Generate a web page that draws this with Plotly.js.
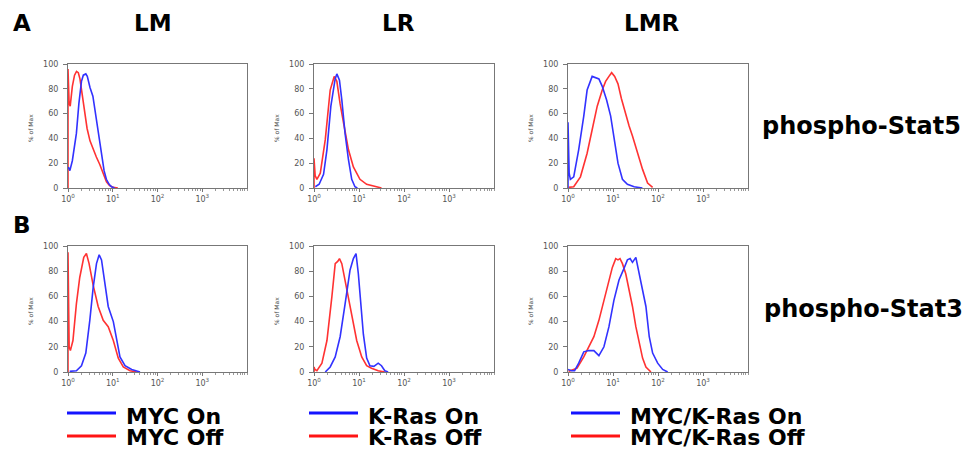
<!DOCTYPE html>
<html><head><meta charset="utf-8">
<script src="https://cdn.plot.ly/plotly-3.0.1.min.js"></script>
<style>html,body{margin:0;padding:0;background:#fff}#chart{width:967px;height:450px}</style>
</head><body><div id="chart"></div>
<script>
// ---- data (fluorescence intensity, % of Max) ----
const columnTitles = ['LM', 'LR', 'LMR'];
const rowLabels = ['A', 'B'];
const rowMarkers = ['phospho-Stat5', 'phospho-Stat3'];
const tickVals = [1, 10, 100, 1000];
const tickText = ['10<sup>0</sup>', '10<sup>1</sup>', '10<sup>2</sup>', '10<sup>3</sup>'];
const yTickVals = [0, 20, 40, 60, 80, 100];
const legendOn = ['MYC On', 'K-Ras On', 'MYC/K-Ras On'];
const legendOff = ['MYC Off', 'K-Ras Off', 'MYC/K-Ras Off'];

// Row A (phospho-Stat5)
const lmA_on_x  = [1.02, 1.1, 1.25, 1.4, 1.54, 1.75, 2.0, 2.2, 2.5, 2.7, 3.1, 3.6, 4.3, 5.0, 5.6, 6.4, 7.2, 8.3, 9.4, 11];
const lmA_on_y  = [17, 14, 22, 33, 44, 68, 86, 91, 92, 90, 81, 74, 55, 40, 25, 14, 7, 3, 1, 0];
const lmA_off_x = [1, 1, 1.06, 1.12, 1.25, 1.4, 1.55, 1.7, 1.85, 2.17, 2.67, 3.1, 3.63, 4.3, 5.13, 6.2, 7.24, 8.5, 10.2, 13];
const lmA_off_y = [0, 96, 68, 66, 82, 91, 94, 93, 88, 71, 48, 38, 31, 25, 19, 12, 5, 2, 0.5, 0];

const lrA_on_x  = [1.07, 1.3, 1.63, 1.94, 2.37, 2.95, 3.22, 3.68, 4.15, 4.9, 5.82, 6.89, 8.13, 9.2];
const lrA_on_y  = [1, 3, 11, 31, 66, 88, 92, 87, 71, 44, 23, 7, 1, 0];
const lrA_off_x = [1, 1, 1.06, 1.16, 1.38, 1.78, 2.29, 2.81, 3.22, 3.8, 4.67, 5.82, 7.5, 10.5, 14.8, 24.6, 31.6];
const lrA_off_y = [0, 24, 10, 7, 12, 39, 79, 90, 86, 68, 50, 31, 17, 7, 3, 1, 0];

const lmrA_on_x  = [1, 1, 1.06, 1.13, 1.34, 1.73, 2.24, 2.66, 3.44, 4.09, 4.86, 5.77, 7.21, 8.87, 10.5, 12.9, 16.2, 20.9, 29.5, 45];
const lmrA_on_y  = [0, 53, 12, 7, 9, 31, 58, 79, 90, 89, 88, 82, 71, 58, 39, 20, 7, 3, 1, 0];
const lmrA_off_x = [1.03, 1.34, 1.89, 2.66, 3.44, 4.46, 5.77, 6.85, 8.13, 9.33, 10.9, 12.9, 15.4, 19.2, 22.8, 27.1, 35.1, 45.4, 58.7, 75.9];
const lmrA_off_y = [0.5, 1, 9, 28, 47, 66, 79, 86, 90, 93, 90, 84, 72, 59, 50, 42, 28, 15, 4, 0.5];

// Row B (phospho-Stat3)
const lmB_on_x  = [1.09, 1.54, 2.0, 2.5, 3.07, 3.65, 4.33, 4.97, 5.61, 6.67, 7.92, 10.3, 12.2, 14.5, 18.8, 26.5, 40.7];
const lmB_on_y  = [0.5, 1, 5, 15, 41, 67, 86, 93, 89, 70, 52, 40, 25, 12, 5, 2, 0];
const lmB_off_x = [1, 1, 1.06, 1.13, 1.29, 1.54, 1.83, 2.25, 2.58, 2.96, 3.65, 4.72, 6.12, 7.92, 10.3, 13.3, 17.2, 24.3, 34.3];
const lmB_off_y = [0, 95, 20, 17, 25, 54, 75, 91, 94, 86, 69, 52, 41, 36, 25, 11, 4, 1, 0];

const lrB_on_x  = [1.78, 2.29, 2.96, 3.81, 4.91, 6.33, 7.5, 8.59, 9.67, 10.9, 12.5, 14.8, 17.5, 21.4, 26.7, 31.6, 37.5, 44.4];
const lrB_on_y  = [0, 4, 12, 28, 54, 81, 90, 94, 78, 54, 30, 11, 5, 4.5, 7, 5, 1, 0];
const lrB_off_x = [1, 1, 1.05, 1.16, 1.5, 1.94, 2.5, 2.96, 3.4, 3.68, 4.15, 4.91, 5.82, 7.25, 8.89, 11.5, 14.8, 19, 26.7, 37.5];
const lrB_off_y = [0, 4, 2, 1, 7, 25, 60, 86, 88, 90, 86, 73, 60, 41, 25, 12, 5, 3, 1, 0];

const lmrB_on_x  = [1, 1.2, 1.4, 1.73, 2.24, 2.9, 3.76, 4.86, 6.29, 8.13, 10.5, 13.6, 17, 20.9, 24, 27.1, 32.2, 36.3, 45.4, 53.9, 63.9, 76, 98.4, 127, 164];
const lmrB_on_y  = [2, 1, 1, 7, 16, 17, 17, 13, 20, 36, 57, 73, 81, 89, 90, 87, 91, 82, 66, 52, 28, 15, 7, 2, 0];
const lmrB_off_x = [1.03, 1.59, 2.24, 2.9, 3.76, 4.86, 6.29, 8.13, 9.67, 11.5, 12.9, 14.3, 16.2, 19.2, 22.8, 27.1, 32.2, 38.2, 45.4, 53.9, 69.7];
const lmrB_off_y = [0.5, 3, 12, 20, 28, 41, 57, 73, 83, 90, 89, 90, 86, 78, 66, 52, 36, 22, 11, 4, 0];

// ---- layout helpers ----
const W = 967, H = 450;
const BLUE = 'rgb(50,50,255)', RED = 'rgb(255,50,50)';
const colPx = [[68, 247], [314, 494], [568, 748]];
const rowPx = [[64, 188], [246, 372]];
const px = v => v / W, py = v => 1 - v / H;

const panels = [
  [lmA_on_x, lmA_on_y, lmA_off_x, lmA_off_y],
  [lrA_on_x, lrA_on_y, lrA_off_x, lrA_off_y],
  [lmrA_on_x, lmrA_on_y, lmrA_off_x, lmrA_off_y],
  [lmB_on_x, lmB_on_y, lmB_off_x, lmB_off_y],
  [lrB_on_x, lrB_on_y, lrB_off_x, lrB_off_y],
  [lmrB_on_x, lmrB_on_y, lmrB_off_x, lmrB_off_y]
];

const traces = [];
const layout = {
  width: W, height: H, margin: {l: 0, r: 0, t: 0, b: 0},
  paper_bgcolor: '#fff', plot_bgcolor: '#fff', showlegend: false,
  annotations: [], shapes: []
};
const tickFont = {family: 'DejaVu Sans', size: 8, color: '#555'};

panels.forEach((p, i) => {
  const r = Math.floor(i / 3), c = i % 3, n = i + 1;
  const xs = n === 1 ? '' : String(n);
  traces.push({x: p[2], y: p[3], type: 'scatter', mode: 'lines', line: {color: RED, width: 1.6},
               xaxis: 'x' + xs, yaxis: 'y' + xs, hoverinfo: 'skip'});
  traces.push({x: p[0], y: p[1], type: 'scatter', mode: 'lines', line: {color: BLUE, width: 1.6},
               xaxis: 'x' + xs, yaxis: 'y' + xs, hoverinfo: 'skip'});
  layout['xaxis' + xs] = {
    type: 'log', range: [0, 4], domain: [px(colPx[c][0]), px(colPx[c][1])], anchor: 'y' + xs,
    tickmode: 'array', tickvals: tickVals, ticktext: tickText, ticks: 'outside', ticklen: 3,
    tickcolor: '#777', showline: true, mirror: true, linecolor: '#777', linewidth: 1,
    showgrid: false, zeroline: false, tickfont: tickFont,
    minor: {ticks: 'outside', ticklen: 2, tickcolor: '#999', dtick: 'D1', showgrid: false}
  };
  layout['yaxis' + xs] = {
    range: [0, 100], domain: [py(rowPx[r][1]), py(rowPx[r][0])], anchor: 'x' + xs,
    tickmode: 'array', tickvals: yTickVals, ticks: 'outside', ticklen: 4, ticklabelstandoff: 3,
    tickcolor: '#777', showline: true, mirror: true, linecolor: '#777', linewidth: 1,
    showgrid: false, zeroline: false, tickfont: tickFont
  };
  // "% of Max" axis label
  layout.annotations.push({
    text: '% of Max', textangle: -90, xref: 'paper', yref: 'paper',
    x: px(colPx[c][0] - 38), y: py((rowPx[r][0] + rowPx[r][1]) / 2 + 2),
    xanchor: 'center', yanchor: 'middle', showarrow: false,
    font: {family: 'DejaVu Sans', size: 6, color: '#444'}
  });
});

const bold = {family: 'DejaVu Sans', size: 23, color: '#000'};
const boldLeg = {family: 'DejaVu Sans', size: 22, color: '#000'};
const boldMarker = {family: 'DejaVu Sans', size: 24, color: '#000'};
// column titles
const titleX = [153, 398, 652];
columnTitles.forEach((t, c) => layout.annotations.push({
  text: '<b>' + t + '</b>', xref: 'paper', yref: 'paper', x: px(titleX[c]), y: py(23),
  xanchor: 'center', yanchor: 'middle', showarrow: false, font: bold
}));
// row letters
const letterY = [23, 225];
rowLabels.forEach((t, r) => layout.annotations.push({
  text: '<b>' + t + '</b>', xref: 'paper', yref: 'paper', x: px(22), y: py(letterY[r]),
  xanchor: 'center', yanchor: 'middle', showarrow: false, font: bold
}));
// row marker labels
const markerY = [126, 309], markerRight = [963, 965];
rowMarkers.forEach((t, r) => layout.annotations.push({
  text: '<b>' + t + '</b>', xref: 'paper', yref: 'paper', x: px(markerRight[r]), y: py(markerY[r]),
  xanchor: 'right', yanchor: 'middle', showarrow: false, font: boldMarker
}));
// legends (line samples + text)
const legX = [67, 309, 571];
for (let c = 0; c < 3; c++) {
  layout.shapes.push({type: 'line', xref: 'paper', yref: 'paper', x0: px(legX[c]), x1: px(legX[c] + 49),
    y0: py(413), y1: py(413), line: {color: 'rgb(20,20,255)', width: 3}});
  layout.shapes.push({type: 'line', xref: 'paper', yref: 'paper', x0: px(legX[c]), x1: px(legX[c] + 49),
    y0: py(436), y1: py(436), line: {color: 'rgb(255,20,20)', width: 3}});
  layout.annotations.push({text: '<b>' + legendOn[c] + '</b>', xref: 'paper', yref: 'paper',
    x: px(legX[c] + 57), y: py(416), xanchor: 'left', yanchor: 'middle', showarrow: false, font: boldLeg});
  layout.annotations.push({text: '<b>' + legendOff[c] + '</b>', xref: 'paper', yref: 'paper',
    x: px(legX[c] + 57), y: py(437), xanchor: 'left', yanchor: 'middle', showarrow: false, font: boldLeg});
}

Plotly.newPlot('chart', traces, layout, {staticPlot: true, displayModeBar: false});
</script>
</body></html>
